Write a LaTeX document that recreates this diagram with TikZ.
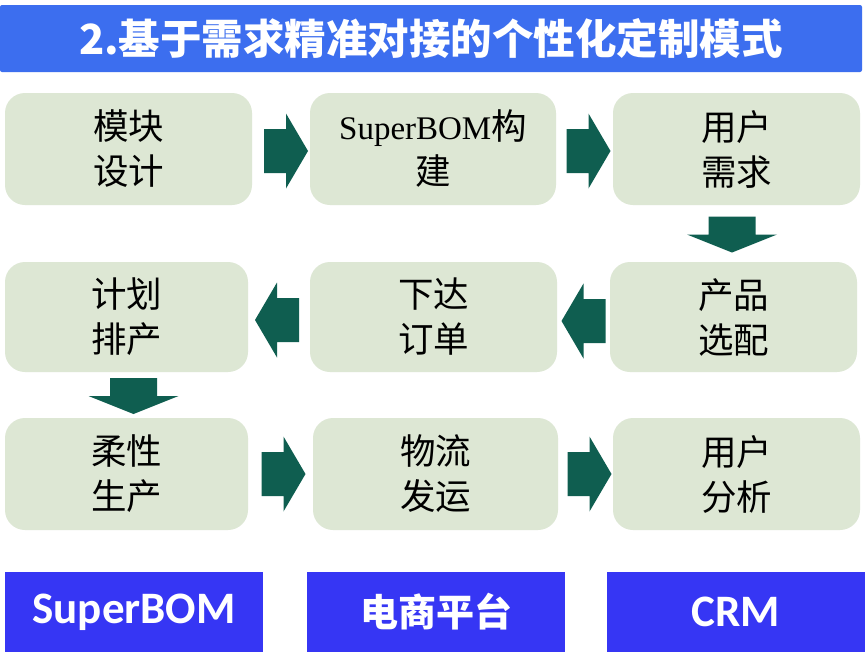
\documentclass[tikz,border=0pt]{standalone}
\usepackage{fontspec}
\setmainfont{Liberation Serif}
\newfontfamily\cjk{Noto Sans CJK SC}
\newfontfamily\lat{Liberation Serif}
\newfontfamily\latb{Carlito}
\usetikzlibrary{calc}
\definecolor{titleblue}{HTML}{3C6EEF}
\definecolor{botblue}{HTML}{3636F4}
\definecolor{boxgreen}{HTML}{DDE7D4}
\definecolor{arrowc}{HTML}{0F5E50}
\tikzset{
  box/.style={fill=boxgreen, rounded corners=20pt, inner sep=0pt, align=center,
    font=\cjk\fontsize{35.5}{45}\selectfont, text=black},
  botbox/.style={fill=botblue, inner sep=0pt, minimum width=258pt, minimum height=80pt,
    text=white, font=\bfseries\fontsize{38}{44}\selectfont},
  harrow/.pic={\fill[arrowc] (-22,-22) -- (0,-22) -- (0,-37.5) -- (22,0) -- (0,37.5) -- (0,22) -- (-22,22) -- cycle;},
  varrow/.pic={\fill[arrowc] (-18,-23.5) -- (0,-23.5) -- (0,-45) -- (18,0) -- (0,45) -- (0,23.5) -- (-18,23.5) -- cycle;}
}
\begin{document}
\begin{tikzpicture}[x=1pt,y=-1pt]
\useasboundingbox (0,0) rectangle (865,662);
\fill[white] (0,0) rectangle (865,662);
% title
\node[fill=titleblue, rounded corners=2pt, minimum width=862pt, minimum height=67pt, inner sep=0pt,
  text=white, font=\cjk\bfseries\fontsize{41.5}{44}\selectfont] (title) at (431,38.5) {2.基于需求精准对接的个性化定制模式};
% row 1
\node[box, minimum width=247pt, minimum height=112pt] (b1) at (128.5,149) {模块\\设计};
\node[box, minimum width=246pt, minimum height=112pt] (b2) at (433,149) {{\lat\fontsize{33}{45}\selectfont SuperBOM}构\\建};
\node[box, minimum width=247pt, minimum height=112pt] (b3) at (736.5,149) {用户\\需求};
% row 2
\node[box, minimum width=243pt, minimum height=110pt] (c1) at (126.5,317) {计划\\排产};
\node[box, minimum width=247pt, minimum height=110pt] (c2) at (433.5,317) {下达\\订单};
\node[box, minimum width=247pt, minimum height=110pt] (c3) at (733.5,317) {产品\\选配};
% row 3
\node[box, minimum width=243pt, minimum height=112pt] (d1) at (126.5,474) {柔性\\生产};
\node[box, minimum width=245pt, minimum height=112pt] (d2) at (435.5,474) {物流\\发运};
\node[box, minimum width=247pt, minimum height=112pt] (d3) at (736.5,474) {用户\\分析};
% bottom
\node[botbox] (e1) at (134,612) {\latb\fontsize{45}{50}\selectfont SuperBOM};
\node[botbox] (e2) at (436,612) {\cjk 电商平台};
\node[botbox] (e3) at (736,612) {\latb\fontsize{45}{50}\selectfont CRM};
% arrows
\pic at ($(b1.east)!0.5!(b2.west)+(5,2)$) {harrow};
\pic at ($(b2.east)!0.5!(b3.west)+(4,2)$) {harrow};
\pic[rotate=-90] at ($(b3.south)!0.5!(c3.north)+(-3,1)$) {varrow};
\pic[rotate=180] at ($(c3.west)!0.5!(c2.east)+(0,4)$) {harrow};
\pic[rotate=180] at ($(c2.west)!0.5!(c1.east)+(-2,3)$) {harrow};
\pic[rotate=-90] at ($(c1.south)!0.5!(d1.north)+(7,1)$) {varrow};
\pic at ($(d1.east)!0.5!(d2.west)+(3,0)$) {harrow};
\pic at ($(d2.east)!0.5!(d3.west)+(4,0)$) {harrow};
\end{tikzpicture}
\end{document}
